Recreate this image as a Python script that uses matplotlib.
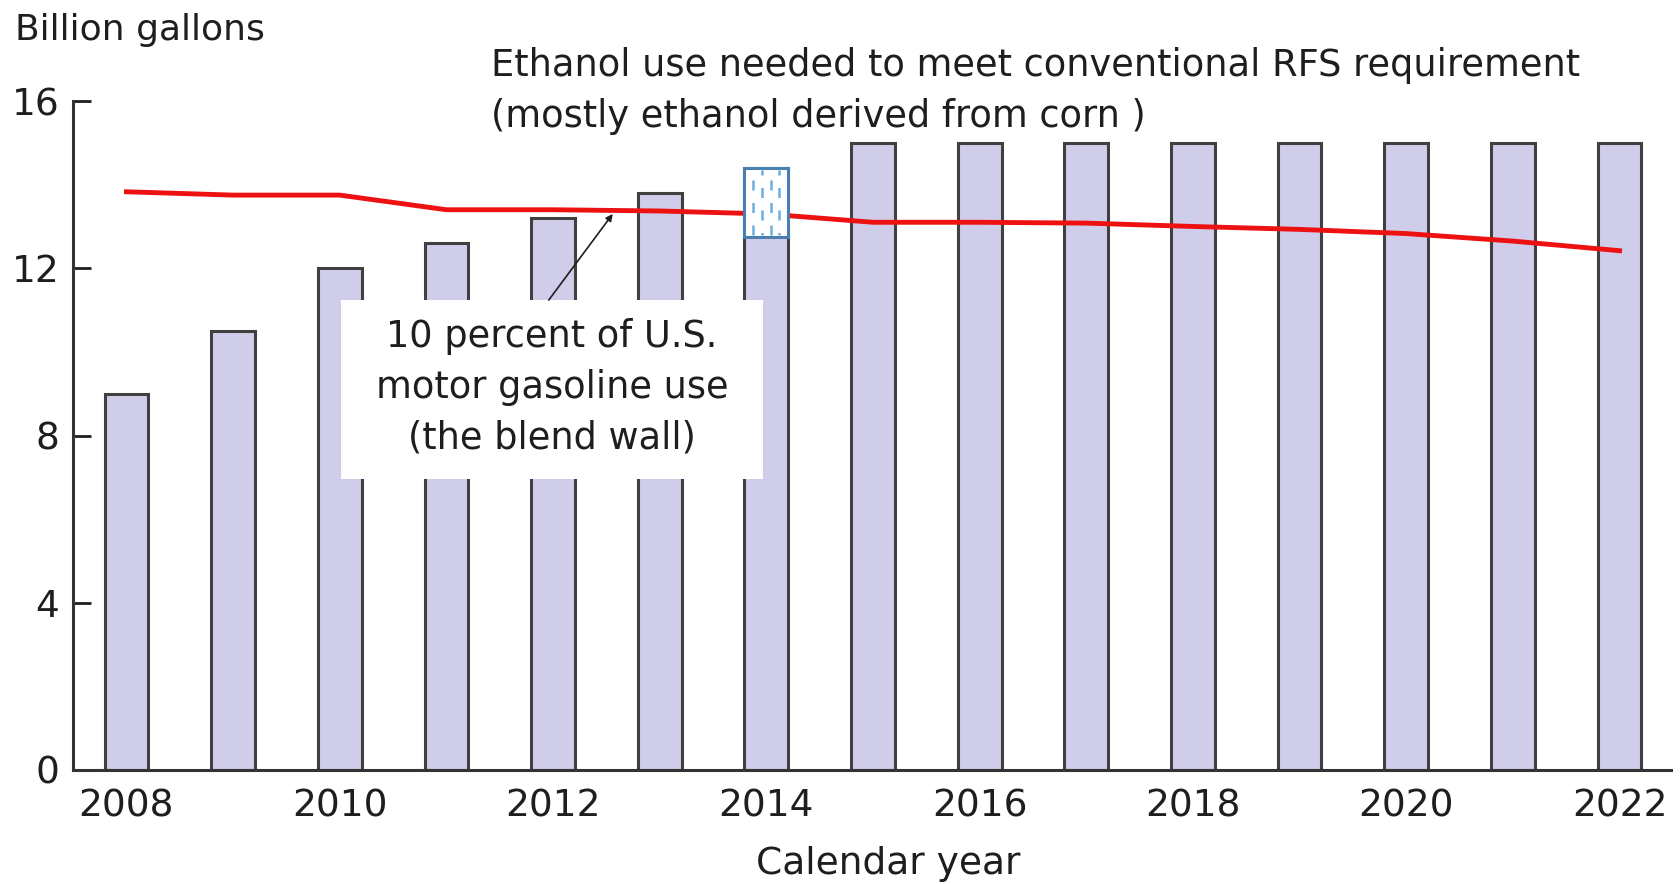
import numpy as np
import matplotlib.pyplot as plt
from matplotlib.patches import Rectangle

years = [2008, 2009, 2010, 2011, 2012, 2013, 2014, 2015,
         2016, 2017, 2018, 2019, 2020, 2021, 2022]
# conventional RFS requirement (bars)
rfs_conv = [9.0, 10.5, 12.0, 12.6, 13.2, 13.8, 14.4, 15.0,
            15.0, 15.0, 15.0, 15.0, 15.0, 15.0, 15.0]
# 10 percent of U.S. motor gasoline use (blend wall)
blend_wall = [13.83, 13.75, 13.75, 13.4, 13.4, 13.37, 13.3, 13.1,
              13.1, 13.08, 13.0, 12.93, 12.83, 12.65, 12.42]
xticks = [2008, 2010, 2012, 2014, 2016, 2018, 2020, 2022]
yticks = [0, 4, 8, 12, 16]

plt.rcParams['font.family'] = ['DejaVu Sans']
tc = '#1e1e1e'

fig = plt.figure(figsize=(16.8, 8.84), dpi=100)
ax = fig.add_axes([0.0435, 0.129, 0.951, 0.7567])

bw = 0.41
ax.bar(years, rfs_conv, width=bw, color='#cfcde9', edgecolor='#404040',
       linewidth=2.2, zorder=2)
ax.plot(years, blend_wall, color='#ee1111', linewidth=3.5, zorder=3)

# highlighted box on the 2014 bar
i14 = years.index(2014)
x0 = years[i14] - bw / 2
box = Rectangle((x0, 12.75), bw, rfs_conv[i14] - 12.75, facecolor='white',
                edgecolor='#4a7fb0', linewidth=2.2, zorder=4)
ax.add_patch(box)
for k, f in enumerate([0.2, 0.4, 0.6, 0.8]):
    ax.plot([x0 + f * bw] * 2, [12.8, rfs_conv[i14] - 0.05], color='#6aaee0',
            linewidth=1.8, linestyle=((k % 2) * 3, (4, 5)), zorder=5)

ax.set_xlim(2007.5, 2022.48)
ax.set_ylim(0, 16)
ax.set_xticks(xticks)
ax.set_yticks(yticks)
ax.tick_params(axis='x', length=0, labelsize=27, pad=13, colors=tc)
ax.tick_params(axis='y', direction='in', length=13, width=2, labelsize=27,
               pad=10, colors=tc)
for s in ['top', 'right']:
    ax.spines[s].set_visible(False)
for s in ['left', 'bottom']:
    ax.spines[s].set_linewidth(2.2)
    ax.spines[s].set_color('#333333')

ax.set_xlabel('Calendar year', fontsize=27, color=tc)
ax.xaxis.set_label_coords(0.51, -0.113)
fig.text(0.009, 0.966, 'Billion gallons', fontsize=26, color=tc,
         va='center', ha='left')
ax.text(2011.42, 16.24,
        'Ethanol use needed to meet conventional RFS requirement\n'
        '(mostly ethanol derived from corn )',
        fontsize=26.5, color=tc, ha='left', va='center', linespacing=1.45)

# white label box for the blend wall line
ax.add_patch(Rectangle((2010.01, 6.96), 3.96, 4.28, facecolor='white',
                       edgecolor='none', zorder=6))
ax.text(2011.99, 9.15, '10 percent of U.S.\nmotor gasoline use\n(the blend wall)',
        fontsize=26.5, color=tc, ha='center', va='center',
        linespacing=1.47, zorder=7)
ax.annotate('', xy=(2012.56, 13.3), xytext=(2011.96, 11.24),
            arrowprops=dict(arrowstyle='-|>,head_length=0.4,head_width=0.2',
                            color=tc, linewidth=1.2, shrinkA=0, shrinkB=0),
            zorder=7)

fig.savefig('out.png', dpi=100)
